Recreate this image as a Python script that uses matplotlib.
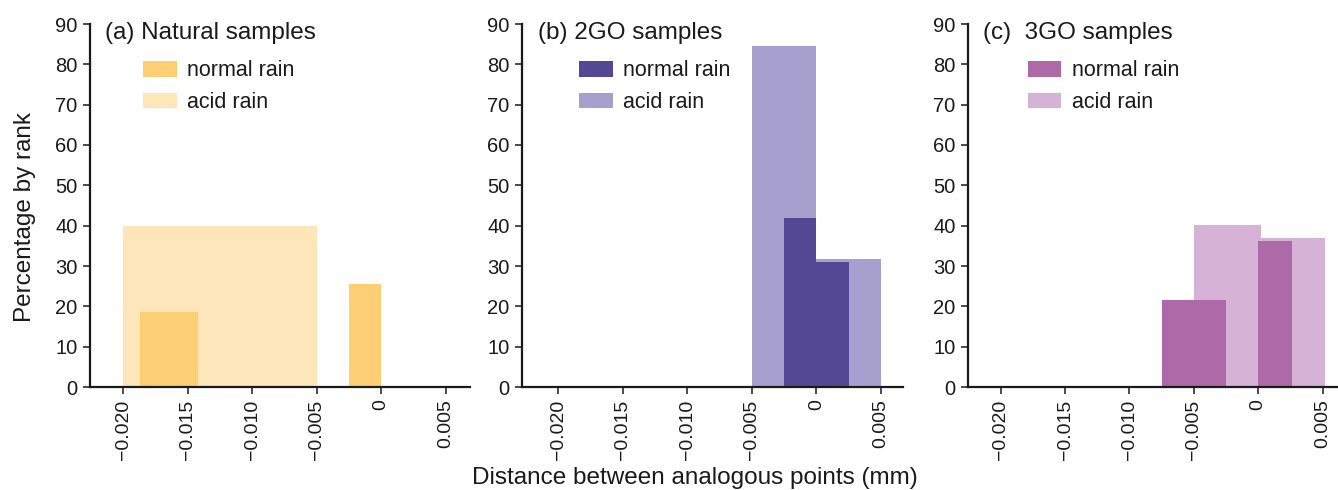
import matplotlib.pyplot as plt

plt.rcParams['font.family'] = ['Liberation Sans', 'DejaVu Sans']

# histogram bins: left edge, width, height (%)
a_acid_left = [-0.020]
a_acid_width = [0.015]
a_acid_height = [40.0]
a_norm_left = [-0.0187, -0.0025]
a_norm_width = [0.0045, 0.0025]
a_norm_height = [18.7, 25.5]

b_acid_left = [-0.005, 0.0]
b_acid_width = [0.005, 0.005]
b_acid_height = [84.6, 31.8]
b_norm_left = [-0.0025, 0.0]
b_norm_width = [0.0025, 0.0025]
b_norm_height = [42.0, 31.0]

c_acid_left = [-0.005, 0.0]
c_acid_width = [0.0052, 0.0052]
c_acid_height = [40.1, 36.9]
c_norm_left = [-0.0075, 0.0]
c_norm_width = [0.005, 0.0026]
c_norm_height = [21.5, 36.3]

xticks = [-0.020, -0.015, -0.010, -0.005, 0.0, 0.005]
xticklabels = ['\u22120.020', '\u22120.015', '\u22120.010', '\u22120.005', '0', '0.005']
yticks = list(range(0, 91, 10))

panels = [
    dict(title='(a) Natural samples', norm='#fdcf74', acid='#fee6bb',
         acid_bins=(a_acid_left, a_acid_width, a_acid_height),
         norm_bins=(a_norm_left, a_norm_width, a_norm_height),
         rect=(90, 380), xlim=(-0.0226, 0.0069), tx=0.04, lx=0.14),
    dict(title='(b) 2GO samples', norm='#544895', acid='#a7a0cf',
         acid_bins=(b_acid_left, b_acid_width, b_acid_height),
         norm_bins=(b_norm_left, b_norm_width, b_norm_height),
         rect=(522, 381), xlim=(-0.0228, 0.0067), tx=0.043, lx=0.15),
    dict(title='(c)  3GO samples', norm='#ad69a8', acid='#d5b2d6',
         acid_bins=(c_acid_left, c_acid_width, c_acid_height),
         norm_bins=(c_norm_left, c_norm_width, c_norm_height),
         rect=(968, 370), xlim=(-0.02254, 0.0062), tx=0.04, lx=0.162),
]

W, H = 1338, 490
fig = plt.figure(figsize=(W / 100, H / 100), dpi=100)

for i, p in enumerate(panels):
    left, width = p['rect']
    ax = fig.add_axes([left / W, (H - 387) / H, width / W, 363 / H])
    al, aw, ah = p['acid_bins']
    nl, nw, nh = p['norm_bins']
    ax.bar(al, ah, width=aw, align='edge', color=p['acid'], label='acid rain', zorder=1)
    ax.bar(nl, nh, width=nw, align='edge', color=p['norm'], label='normal rain', zorder=2)

    ax.set_xlim(*p['xlim'])
    ax.set_ylim(0, 90)
    ax.set_xticks(xticks)
    ax.set_xticklabels(xticklabels, rotation=90)
    ax.set_yticks(yticks)
    for s in ('top', 'right'):
        ax.spines[s].set_visible(False)
    for s in ('left', 'bottom'):
        ax.spines[s].set_linewidth(1.6)
        ax.spines[s].set_color('#1a1a1a')
    ax.tick_params(length=5, width=1.1, color='#1a1a1a',
                   labelcolor='#1a1a1a', pad=4)
    ax.tick_params(axis='y', labelsize=14.5)
    ax.tick_params(axis='x', labelsize=14)
    ax.patch.set_visible(False)

    ax.text(p['tx'], 0.975, p['title'], transform=ax.transAxes, fontsize=17.5,
            ha='left', va='center', color='#1a1a1a')
    handles, labels = ax.get_legend_handles_labels()
    ax.legend(handles[::-1], labels[::-1], loc='upper left',
              bbox_to_anchor=(p['lx'], 0.9), frameon=False, fontsize=15.5,
              borderaxespad=0, borderpad=0, handlelength=1.55, handleheight=0.75,
              handletextpad=0.5, labelspacing=0.5, labelcolor='#1a1a1a')

fig.text(25 / W, 1 - 217 / H, 'Percentage by rank', rotation=90,
         ha='center', va='center', fontsize=17.5, color='#1a1a1a')
fig.text(695 / W, 1 - 478 / H, 'Distance between analogous points (mm)',
         ha='center', va='center', fontsize=17.5, color='#1a1a1a')

fig.savefig('out.png', dpi=100)
